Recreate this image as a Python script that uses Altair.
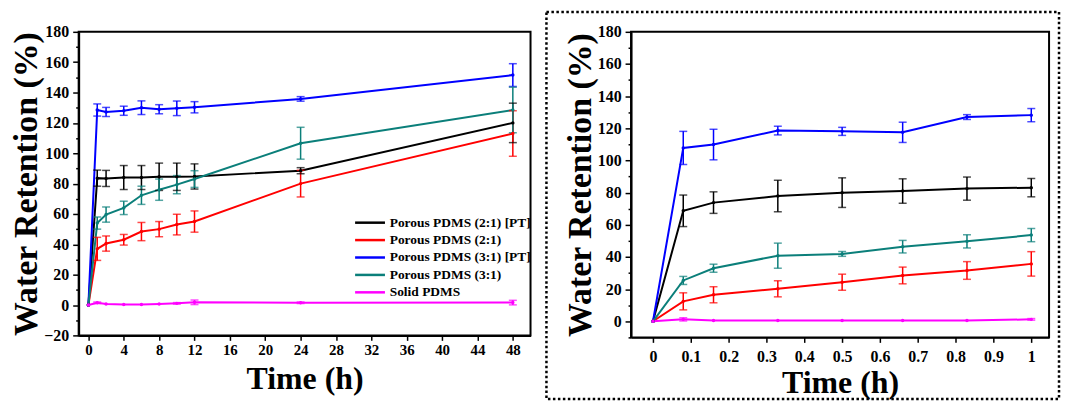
import altair as alt
import pandas as pd

series = ["Porous PDMS (2:1) [PT]", "Porous PDMS (2:1)", "Porous PDMS (3:1) [PT]",
          "Porous PDMS (3:1)", "Solid PDMS"]
colors = ["#000000", "#ff0000", "#0000ff", "#0b7f7a", "#ff00ff"]

# Left panel: long-term (hours)
t_long = [0, 1, 2, 4, 6, 8, 10, 12, 24, 48]
long_mean = {
    "Porous PDMS (2:1) [PT]": [0, 83.6, 83.4, 84, 84, 84.5, 84.5, 84.7, 88.5, 120],
    "Porous PDMS (2:1)": [0, 37, 40.5, 43, 48.4, 50, 53, 55, 80, 113],
    "Porous PDMS (3:1) [PT]": [0, 128.5, 127.2, 128, 130, 129, 129.6, 130.3, 135.8, 151.5],
    "Porous PDMS (3:1)": [0, 54, 59.6, 64, 72.3, 76, 79.3, 83, 106.6, 128.5],
    "Solid PDMS": [0, 1.5, 0.7, 0.4, 0.4, 0.7, 1.1, 1.8, 1.5, 1.6],
}
long_err = {
    "Porous PDMS (2:1) [PT]": [0, 5.3, 5.3, 7.9, 7.9, 9, 9, 8.3, 2, 13],
    "Porous PDMS (2:1)": [0, 7.6, 5, 3.5, 6, 5, 6.8, 7, 8.8, 15],
    "Porous PDMS (3:1) [PT]": [0, 4, 3, 3, 4.5, 3, 4.8, 3.7, 1.5, 7.5],
    "Porous PDMS (3:1)": [0, 4, 5, 4.4, 6, 7, 6, 5.5, 10.5, 15],
    "Solid PDMS": [0, 0.5, 0, 0, 0, 0, 0.5, 1.5, 0.5, 1.5],
}

# Right panel: first hour
t_short = [0, 0.08, 0.16, 0.33, 0.5, 0.66, 0.83, 1]
short_mean = {
    "Porous PDMS (2:1) [PT]": [0, 68.7, 73.8, 77.9, 80, 81, 82.5, 83.1],
    "Porous PDMS (2:1)": [0, 12.4, 16.5, 20.2, 24.3, 28.5, 31.6, 35.7],
    "Porous PDMS (3:1) [PT]": [0, 107.8, 109.9, 118.6, 118.1, 117.5, 127, 128.2],
    "Porous PDMS (3:1)": [0, 25.4, 33, 40.8, 41.9, 46.4, 49.7, 53.6],
    "Solid PDMS": [0, 1.2, 0.5, 0.5, 0.5, 0.5, 0.5, 1.2],
}
short_err = {
    "Porous PDMS (2:1) [PT]": [0, 9.8, 6.7, 9.8, 9.2, 7.6, 7.2, 5.7],
    "Porous PDMS (2:1)": [0, 5.3, 5, 5, 5, 5.2, 5.5, 7.6],
    "Porous PDMS (3:1) [PT]": [0, 10.3, 9.5, 2.7, 2.5, 6.3, 1.5, 4.1],
    "Porous PDMS (3:1)": [0, 2.5, 2.5, 7.8, 1.5, 3.9, 4.1, 4.1],
    "Solid PDMS": [0, 1, 0, 0, 0, 0, 0, 0.5],
}

long_ticks = list(range(0, 49, 4))
short_ticks = [0, 0.1, 0.2, 0.3, 0.4, 0.5, 0.6, 0.7, 0.8, 0.9, 1]

FONT = "Liberation Serif"


def frames(times, means, errs):
    rows, caps = [], []
    for s in series:
        for t, m, e in zip(times, means[s], errs[s]):
            rows.append({"t": t, "v": m, "lo": m - e, "hi": m + e, "e": e, "series": s})
            if e > 0:
                caps.append({"t": t, "c": m - e, "series": s})
                caps.append({"t": t, "c": m + e, "series": s})
    return pd.DataFrame(rows), pd.DataFrame(caps)


def panel(times, means, errs, xdom, xticks, ydom, yvals, w, h, with_legend,
          xlabsize, xlabpad, xtitlepad, border=False):
    df, caps = frames(times, means, errs)
    cscale = alt.Scale(domain=series, range=colors)
    yscale = alt.Scale(domain=ydom, nice=False, zero=False)
    xscale = alt.Scale(domain=xdom, nice=False, zero=False)
    xax = alt.Axis(values=xticks, format="~g", title="Time (h)",
                   labelFontSize=xlabsize, labelPadding=xlabpad, labelOverlap=False,
                   titlePadding=xtitlepad, tickSize=5, titleFontSize=32)
    yax = alt.Axis(values=yvals, title="Water Retention (%)",
                   labelExpr="datum.value % 20 == 0 ? datum.label : ''",
                   tickSize={"condition": {"test": "datum.value % 20 != 0", "value": 3}, "value": 6},
                   labelPadding=4, titlePadding=0, labelFontSize=16, labelOverlap=False,
                   titleFontSize=34)
    X = lambda f: alt.X(f, scale=xscale, axis=xax)
    Y = lambda f: alt.Y(f, scale=yscale, axis=yax)
    if with_legend:
        leg = alt.Legend(title=None, orient="none", legendX=271, legendY=185,
                         symbolType="M-3,0H3", symbolSize=100, symbolStrokeWidth=2.5,
                         symbolOffset=15,
                         labelFont=FONT, labelFontWeight="bold", labelFontSize=13.5,
                         labelColor="black", labelOverlap=False,
                         rowPadding=2.5, labelOffset=13, padding=0, labelLimit=300)
    else:
        leg = None
    color = alt.Color("series:N", scale=cscale, legend=leg)
    plain = alt.Color("series:N", scale=cscale, legend=None)
    base = alt.Chart(df)
    err_rules = base.transform_filter("datum.e > 0").mark_rule(strokeWidth=1.5).encode(
        x=X("t:Q"), y=Y("lo:Q"), y2="hi:Q", color=plain)
    cap_marks = alt.Chart(caps).mark_tick(thickness=1.5, size=8, orient="horizontal").encode(
        x=X("t:Q"), y=Y("c:Q"), color=plain)
    lines = base.mark_line(strokeWidth=2).encode(x=X("t:Q"), y=Y("v:Q"), color=color, order="t:Q")
    pts = base.mark_circle(size=12, opacity=1).encode(x=X("t:Q"), y=Y("v:Q"), color=plain)
    layers = [lines, err_rules, cap_marks, pts]
    if border:
        rect = alt.Chart(alt.Data(values=[{"a": 1}])).mark_rect(
            fill=None, fillOpacity=0, stroke="black", strokeWidth=2.5, strokeDash=[2.5, 2.5]
        ).encode(x=alt.value(-85), x2=alt.value(430), y=alt.value(-20), y2=alt.value(369))
        layers = [rect] + layers
    return alt.layer(*layers).properties(width=w, height=h)


left = panel(t_long, long_mean, long_err, [-1.1, 50], long_ticks, [-20, 180],
             list(range(-20, 181, 10)), 454, 305, True, 15, 2, 6)
right = panel(t_short, short_mean, short_err, [-0.058, 1.047], short_ticks, [-10, 180],
              list(range(-10, 181, 10)), 420, 307, False, 16, 6, 3, border=True)

chart = alt.hconcat(left, right, spacing=101, bounds="flush").resolve_scale(
    color="independent"
).properties(
    padding={"left": 0, "top": 0, "right": 0, "bottom": 0}
).configure_view(
    stroke="black", strokeWidth=2
).configure_axis(
    grid=False, domainColor="black", domainWidth=2, tickColor="black", tickWidth=1.5,
    labelFont=FONT, labelFontWeight="bold", labelColor="black", labelOverlap=False,
    titleFont=FONT, titleFontWeight="bold", titleColor="black"
)

chart.save("out.html", embed_options={"renderer": "svg", "actions": False})
